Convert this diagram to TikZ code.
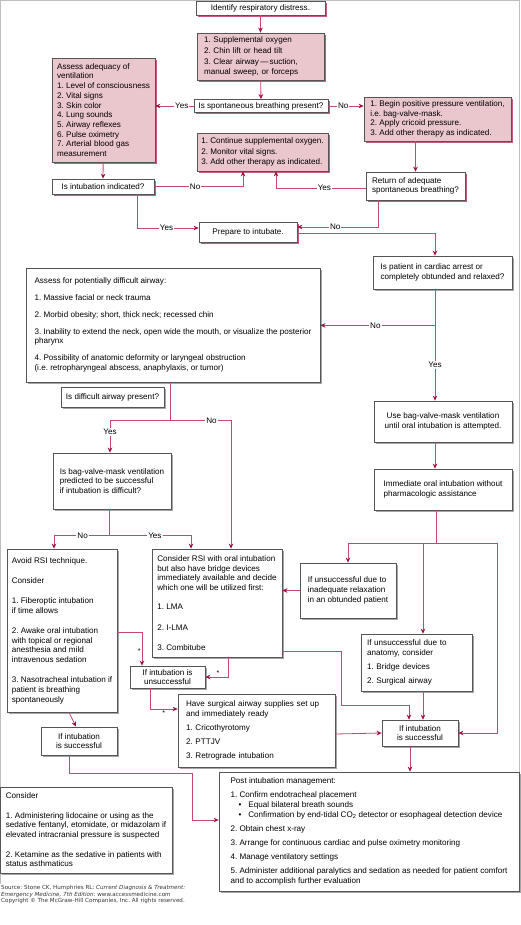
\documentclass[tikz,border=0pt]{standalone}
\usepackage{fontspec}
\setmainfont{Liberation Sans}
\newfontfamily\footfont{DejaVu Sans}
\frenchspacing
\usetikzlibrary{arrows.meta,shadows,calc}
\definecolor{pinkfill}{RGB}{234,198,205}
\definecolor{shadowpink}{RGB}{198,92,124}
\definecolor{shadowgray}{RGB}{165,165,165}
\definecolor{boxgray}{RGB}{85,85,85}
\definecolor{lnc}{RGB}{200,70,112}
\definecolor{tipc}{RGB}{160,15,62}
\definecolor{framec}{RGB}{190,190,190}
\tikzset{
  basebox/.style={draw=boxgray, line width=0.8pt, align=left, inner sep=2pt,
    font=\fontsize{8.1}{9.7}\selectfont},
  pbox/.style={basebox, fill=pinkfill,
    drop shadow={shadow xshift=2pt, shadow yshift=-2pt, fill=shadowpink, opacity=1}},
  wboxp/.style={basebox, fill=white,
    drop shadow={shadow xshift=2pt, shadow yshift=-2pt, fill=shadowpink, opacity=1}},
  wbox/.style={basebox, fill=white,
    drop shadow={shadow xshift=1.5pt, shadow yshift=-1.5pt, fill=shadowgray, opacity=1}},
  ln/.style={draw=lnc, line width=0.8pt},
  arr/.style={ln, -{Stealth[length=5pt, width=4.6pt, color=tipc]}},
  lbl/.style={fill=white, inner sep=1pt, font=\fontsize{8.1}{9}\selectfont},
  ast/.style={inner sep=1pt, font=\fontsize{7}{7}\selectfont},
}
\begin{document}
\begin{tikzpicture}[x=1pt,y=-1pt]
\useasboundingbox (0,0) rectangle (520,925);
\draw[framec, line width=1pt] (0.5,884) -- (0.5,0.5) -- (519.5,0.5) -- (519.5,884);

% ---------- top part ----------
\node[wboxp, minimum width=129, minimum height=14] (idr) at (260.5,8) {Identify respiratory distress.};
\node[pbox, minimum width=127, minimum height=47, text width=113, inner xsep=7pt] (sup) at (260.5,56.5)
  {1. Supplemental oxygen\\[1.2pt]2. Chin lift or head tilt\\[1.2pt]3. Clear airway\,—\,suction,\\manual sweep, or forceps};
\node[wboxp, minimum width=134, minimum height=13] (spont) at (261,106) {Is spontaneous breathing present?};
\node[pbox, minimum width=103, minimum height=104] (assess) at (103.5,110)
  {Assess adequacy of\\ventilation\\1. Level of consciousness\\2. Vital signs\\3. Skin color\\4. Lung sounds\\5. Airway reflexes\\6. Pulse oximetry\\7. Arterial blood gas\\measurement};
\node[pbox, minimum width=147, minimum height=44] (ppv) at (437.5,119)
  {1. Begin positive pressure ventilation,\\i.e. bag-valve-mask.\\2. Apply cricoid pressure.\\3. Add other therapy as indicated.};
\node[pbox, minimum width=131, minimum height=38] (cont) at (262.5,152)
  {1. Continue supplemental oxygen.\\[1.2pt]2. Monitor vital signs.\\[1.2pt]3. Add other therapy as indicated.};
\node[wboxp, minimum width=102, minimum height=15] (intind) at (103,186.5) {Is intubation indicated?};
\node[wboxp, minimum width=99, minimum height=28] (ret) at (415.5,186) {Return of adequate\\spontaneous breathing?};
\node[wboxp, minimum width=98, minimum height=20] (prep) at (248,232) {Prepare to intubate.};

% ---------- middle part ----------
\node[wbox, minimum width=139, minimum height=33] (card) at (442.5,272.5)
  {Is patient in cardiac arrest or\\completely obtunded and relaxed?};
\node[wbox, minimum width=294, minimum height=114] (diff) at (173,325)
  {Assess for potentially difficult airway:\\[7pt]1. Massive facial or neck trauma\\[7pt]2. Morbid obesity; short, thick neck; recessed chin\\[7pt]3. Inability to extend the neck, open wide the mouth, or visualize the posterior\\pharynx\\[7pt]4. Possibility of anatomic deformity or laryngeal obstruction\\(i.e. retropharyngeal abscess, anaphylaxis, or tumor)};
\node[wbox, minimum width=103, minimum height=20] (dap) at (112.5,397) {Is difficult airway present?};
\node[wbox, minimum width=118, minimum height=56] (bvmq) at (112,481)
  {Is bag-valve-mask ventilation\\predicted to be successful\\if intubation is difficult?};
\node[wbox, minimum width=138, minimum height=41, align=center] (bvmu) at (443,421.5)
  {Use bag-valve-mask ventilation\\until oral intubation is attempted.};
\node[wbox, minimum width=138, minimum height=41] (imm) at (443,489.5)
  {Immediate oral intubation without\\pharmacologic assistance};
\node[wbox, minimum width=110, minimum height=163] (avoid) at (62,630.5)
  {Avoid RSI technique.\\[10.5pt]Consider\\[10.5pt]1. Fiberoptic intubation\\if time allows\\[10.5pt]2. Awake oral intubation\\with topical or regional\\anesthesia and mild\\intravenous sedation\\[10.5pt]3. Nasotracheal intubation if\\patient is breathing\\spontaneously};
\node[wbox, minimum width=130, minimum height=108] (rsi) at (217,603)
  {Consider RSI with oral intubation\\but also have bridge devices\\immediately available and decide\\which one will be utilized first:\\[9.5pt]1. LMA\\[10.5pt]2. I-LMA\\[10.5pt]3. Combitube};
\node[wbox, minimum width=96, minimum height=55] (inad) at (348,590.5)
  {If unsuccessful due to\\inadequate relaxation\\in an obtunded patient};
\node[wbox, minimum width=75, minimum height=22, align=center] (unsucc) at (167.5,677) {If intubation is\\unsuccessful};
\node[wbox, minimum width=111, minimum height=57, text width=99, inner xsep=6pt] (anat) at (416.5,662.5)
  {If unsuccessful due to\\anatomy, consider\\[4.5pt]1. Bridge devices\\[4.5pt]2. Surgical airway};
\node[wbox, minimum width=157, minimum height=73, text width=141, inner xsep=8pt] (surg) at (256.5,730.5)
  {Have surgical airway supplies set up\\and immediately ready\\[4.5pt]1. Cricothyrotomy\\[4.5pt]2. PTTJV\\[4.5pt]3. Retrograde intubation};
\node[wbox, minimum width=76, minimum height=28, align=center] (succL) at (79,741) {If intubation\\is successful};
\node[wbox, minimum width=76, minimum height=26, align=center] (succR) at (420,733) {If intubation\\is successful};

% ---------- bottom part ----------
\node[wbox, minimum width=300, minimum height=119] (post) at (369,831.5)
  {Post intubation management:\\[4.5pt]1. Confirm endotracheal placement\\
   \hspace*{8pt}•\hspace{7pt}Equal bilateral breath sounds\\
   \hspace*{8pt}•\hspace{7pt}Confirmation by end-tidal CO\textsubscript{2} detector or esophageal detection device\\[4.5pt]
   2. Obtain chest x-ray\\[4.5pt]3. Arrange for continuous cardiac and pulse oximetry monitoring\\[4.5pt]
   4. Manage ventilatory settings\\[4.5pt]5. Administer additional paralytics and sedation as needed for patient comfort\\and to accomplish further evaluation};
\node[wbox, minimum width=172, minimum height=86] (cons) at (86,830)
  {Consider\\[9.5pt]1. Administering lidocaine or using as the\\sedative fentanyl, etomidate, or midazolam if\\elevated intracranial pressure is suspected\\[10pt]2. Ketamine as the sedative in patients with\\status asthmaticus};

\node[anchor=north west, align=left, inner sep=0pt, font=\footfont\fontsize{5.6}{6.2}\selectfont, text=black!80] (src) at (1,885.5)
  {Source: Stone CK, Humphries RL: \textit{Current Diagnosis \& Treatment:}\\\textit{Emergency Medicine, 7th Edition}: www.accessmedicine.com\\Copyright © The McGraw-Hill Companies, Inc. All rights reserved.};

% ---------- connectors ----------
\draw[arr] (idr) -- (sup);
\draw[arr] (sup) -- (spont);
\draw[arr] (spont.west) -- (spont.west -| assess.east) node[pos=0.31,lbl]{Yes};
\draw[arr] (spont.east) -- (spont.east -| ppv.west) node[pos=0.42,lbl]{No};
\draw[arr] (ret.north |- ppv.south) -- (ret.north);
\draw[arr] (assess) -- (intind);
\draw[arr] (intind.east) -| ($(cont.south)+(-19.5,0)$) node[pos=0.23,lbl]{No};
\draw[arr] ($(ret.west)+(0,2)$) -| ($(cont.south)+(13.5,0)$) node[pos=0.23,lbl]{Yes};
\draw[arr] ($(intind.south)+(34,0)$) |- ($(prep.west)+(0,-4)$) node[pos=0.74,lbl]{Yes};
\draw[arr] ($(ret.south)+(-37.5,0)$) |- ($(prep.east)+(0,-5)$) node[pos=0.765,lbl]{No};
\draw[arr] ($(prep.east)+(0,1)$) -| ($(card.north)+(-7.5,0)$);

\coordinate (nob) at ($(card.south)+(-7.5,36)$);
\draw[arr] ($(card.south)+(-7.5,0)$) -- ($(bvmu.north)+(-8,0)$) node[pos=0.68,lbl]{Yes};
\draw[arr] (nob) -- (nob -| diff.east) node[pos=0.52,lbl]{No};
\draw[arr] ($(bvmu.south)+(-8,0)$) -- ($(imm.north)+(-8,0)$);

\coordinate (br1) at ($(diff.south)+(-3,38)$);
\draw[ln] ($(diff.south)+(-3,0)$) -- (br1);
\draw[arr] (br1) -| ($(bvmq.north)+(-2,0)$) node[pos=0.68,lbl]{Yes};
\draw[arr] (br1) -| ($(rsi.north)+(14,0)$) node[pos=0.34,lbl]{No};

\coordinate (br2) at ($(bvmq.south)+(-3,26)$);
\draw[ln] ($(bvmq.south)+(-3,0)$) -- (br2);
\draw[arr] (br2) -| ($(avoid.north)+(-8,0)$) node[pos=0.24,lbl]{No};
\draw[arr] (br2) -| ($(rsi.north)+(-26,0)$) node[pos=0.28,lbl]{Yes};

\coordinate (br3) at ($(imm.south)+(-7,33)$);
\coordinate (rr) at ($(br3)+(61,0)$);
\draw[ln] ($(imm.south)+(-7,0)$) -- (br3);
\draw[arr] (br3) -| (inad.north);
\draw[arr] (br3) -| ($(anat.north)+(6.5,0)$);
\draw[arr] (br3) -- (rr) |- (succR.east);

\draw[arr] (inad.west) -- (inad.west -| rsi.east);
\draw[arr] ($(avoid.east)+(0,1.5)$) -| ($(unsucc.north)+(-25.5,0)$) node[pos=0.79,ast,left]{*};
\draw[arr] ($(rsi.south)+(11,0)$) |- (unsucc.east) node[pos=0.72,ast,above]{*};
\draw[arr] ($(rsi.east)+(0,48)$) -- ++(59,0) -- ++(0,54) -| ($(succR.north)+(-11,0)$);
\draw[arr] ($(anat.south)+(6.5,0)$) -- ($(succR.north)+(3,0)$);
\draw[arr] ($(unsucc.south)+(-17.5,0)$) |- ($(surg.west)+(0,-21.5)$) node[pos=0.75,ast,below]{*};
\draw[arr] ($(surg.east)+(0,3.5)$) -- (succR.west);
\draw[arr] ($(avoid.south)+(7,0)$) -- ($(succL.north)+(-3,0)$);
\draw[arr] ($(succL.south)+(-10,0)$) |- ++(123,18) |- ($(post.west)+(0,-11.5)$);
\draw[arr] ($(succR.south)+(-10,0)$) -- ($(post.north)+(41,0)$);
\end{tikzpicture}
\end{document}
